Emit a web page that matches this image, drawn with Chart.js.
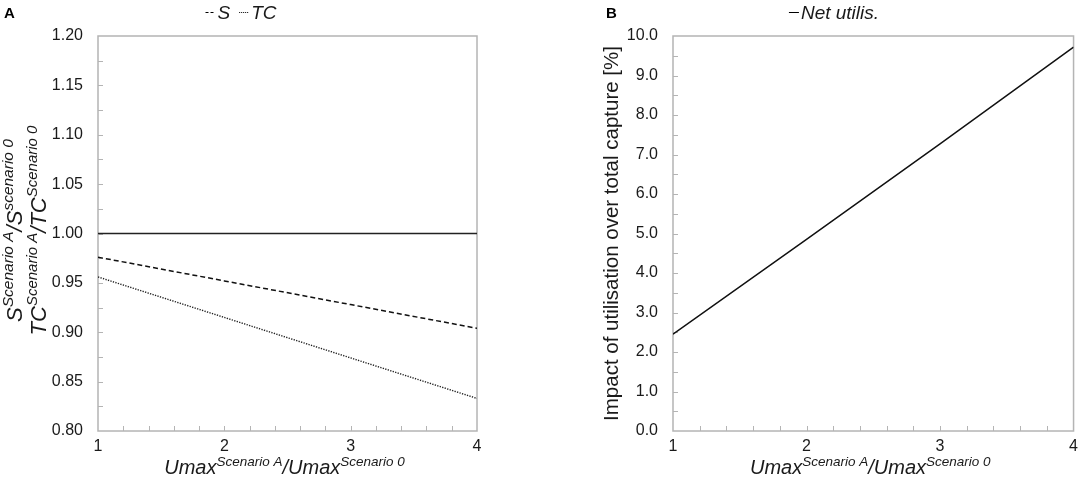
<!DOCTYPE html>
<html>
<head>
<meta charset="utf-8">
<script src="https://cdn.jsdelivr.net/npm/chart.js@4"></script>
<style>
  html, body { margin:0; padding:0; background:#fff; }
  #wrap { position:relative; width:1084px; height:485px; overflow:hidden; }
  canvas { position:absolute; top:0; }
</style>
</head>
<body>
<div id="wrap">
  <canvas id="cA" width="542" height="485" style="left:0;width:542px;height:485px"></canvas>
  <canvas id="cB" width="542" height="485" style="left:542px;width:542px;height:485px"></canvas>
</div>
<script>
// ---------------- DATA ----------------
const xValues      = [1, 2, 3, 4];
const sRatio       = [0.976, 0.952, 0.928, 0.904];   // S scenario A / S scenario 0
const tcRatio      = [0.956, 0.915, 0.874, 0.833];   // TC scenario A / TC scenario 0
const refLine      = [1.0, 1.0, 1.0, 1.0];           // reference ratio = 1
const netUtil      = [2.45, 4.85, 7.27, 9.72];       // Net utilisation impact [%]

const xTicks       = [1, 2, 3, 4];
const yTicksA      = [0.80, 0.85, 0.90, 0.95, 1.00, 1.05, 1.10, 1.15, 1.20];
const yTicksB      = [0.0, 1.0, 2.0, 3.0, 4.0, 5.0, 6.0, 7.0, 8.0, 9.0, 10.0];

const legendA      = ['S', 'TC'];
const legendB      = ['Net utilis.'];

// ---------------- HELPERS ----------------
const FONT = "'Liberation Sans', Arial, Helvetica, sans-serif";
const TXT = '#1a1a1a';
const FRAME = '#b4b4b4';

function pts(xs, ys) { return xs.map((x, i) => ({ x: x, y: ys[i] })); }

// rich text with superscripts; parts: [text, isSup]
function richWidth(ctx, parts, size, supSize) {
  let w = 0;
  for (const [t, sup] of parts) {
    ctx.font = 'italic ' + (sup ? supSize : size) + 'px ' + FONT;
    w += ctx.measureText(t).width;
  }
  return w;
}
function drawRich(ctx, parts, cx, baseY, size, supSize, supRise) {
  const w = richWidth(ctx, parts, size, supSize);
  let x = cx - w / 2;
  ctx.textBaseline = 'alphabetic';
  ctx.textAlign = 'left';
  ctx.fillStyle = TXT;
  for (const [t, sup] of parts) {
    ctx.font = 'italic ' + (sup ? supSize : size) + 'px ' + FONT;
    ctx.fillText(t, x, sup ? baseY - supRise : baseY);
    x += ctx.measureText(t).width;
  }
}

// frame + inward minor/major tick marks
function framePlugin(minorX, minorY) {
  return {
    id: 'frame',
    beforeDatasetsDraw(chart) {
      const { ctx, chartArea: a, scales } = chart;
      ctx.save();
      ctx.strokeStyle = FRAME;
      ctx.lineWidth = 1.5;
      ctx.strokeRect(a.left, a.top, a.right - a.left, a.bottom - a.top);
      ctx.lineWidth = 1;
      ctx.beginPath();
      const xs = scales.x, ys = scales.y;
      const nx = Math.round((xs.max - xs.min) / minorX);
      for (let i = 1; i < nx; i++) {
        const px = Math.round(xs.getPixelForValue(xs.min + i * minorX)) + 0.5;
        ctx.moveTo(px, a.bottom); ctx.lineTo(px, a.bottom - 5);
      }
      const ny = Math.round((ys.max - ys.min) / minorY);
      for (let i = 1; i < ny; i++) {
        const py = Math.round(ys.getPixelForValue(ys.min + i * minorY)) + 0.5;
        ctx.moveTo(a.left, py); ctx.lineTo(a.left + 5, py);
      }
      ctx.stroke();
      ctx.restore();
    }
  };
}

// legend drawn from dataset labels / dash styles
function legendPlugin(centerX, baseY, panelLetter, letterX) {
  return {
    id: 'customLegend',
    afterDraw(chart) {
      const ctx = chart.ctx;
      const items = chart.data.datasets.filter(d => d.label);
      ctx.save();
      ctx.font = 'bold 15px ' + FONT;
      ctx.fillStyle = '#000';
      ctx.textBaseline = 'alphabetic';
      ctx.textAlign = 'left';
      ctx.fillText(panelLetter, letterX, 18);
      ctx.font = 'italic 19px ' + FONT;
      const sw = 10, g1 = 2, g2 = 9;
      let total = 0;
      items.forEach((d, i) => {
        total += sw + g1 + ctx.measureText(d.label).width + (i < items.length - 1 ? g2 : 0);
      });
      let x = centerX - total / 2;
      items.forEach(d => {
        ctx.strokeStyle = '#000';
        ctx.lineWidth = 1;
        ctx.setLineDash(d.legendDash || []);
        ctx.beginPath();
        ctx.moveTo(x, baseY - 6.5); ctx.lineTo(x + sw, baseY - 6.5);
        ctx.stroke();
        ctx.setLineDash([]);
        x += sw + g1;
        ctx.fillStyle = TXT;
        ctx.fillText(d.label, x, baseY);
        x += ctx.measureText(d.label).width + g2;
      });
      ctx.restore();
    }
  };
}

function titlesPlugin(drawYTitle) {
  return {
    id: 'titles',
    afterDraw(chart) {
      const { ctx, chartArea: a } = chart;
      ctx.save();
      const xParts = [['Umax', false], ['Scenario A', true], ['/', false], ['Umax', false], ['Scenario 0', true]];
      drawRich(ctx, xParts, (a.left + a.right) / 2 - 3, 474, 20, 13.5, 8);
      drawYTitle(ctx, a);
      ctx.restore();
    }
  };
}

function commonScales(yMin, yMax, yTickVals, yFmt, yWidth) {
  return {
    x: {
      type: 'linear', min: 1, max: 4,
      afterBuildTicks: s => { s.ticks = xTicks.map(v => ({ value: v })); },
      afterFit: s => { s.height = 54; },
      ticks: { font: { family: FONT, size: 16 }, color: TXT, padding: 6, maxRotation: 0,
               callback: v => String(v) },
      grid: { display: false, drawTicks: false },
      border: { display: false }
    },
    y: {
      type: 'linear', min: yMin, max: yMax,
      afterBuildTicks: s => { s.ticks = yTickVals.map(v => ({ value: v })); },
      afterFit: s => { s.width = yWidth; },
      ticks: { font: { family: FONT, size: 16 }, color: TXT, padding: 15,
               callback: v => yFmt(v) },
      grid: { display: false, drawTicks: false },
      border: { display: false }
    }
  };
}

// ---------------- CHART A ----------------
new Chart(document.getElementById('cA'), {
  type: 'line',
  data: {
    datasets: [
      { data: pts(xValues, refLine), borderColor: '#222', borderWidth: 1.5, pointRadius: 0, fill: false },
      { label: legendA[0], data: pts(xValues, sRatio), borderColor: '#111', borderWidth: 1.5,
        borderDash: [5, 3], legendDash: [3, 2], pointRadius: 0, fill: false },
      { label: legendA[1], data: pts(xValues, tcRatio), borderColor: '#222', borderWidth: 1.4,
        borderDash: [1.3, 1.3], legendDash: [1, 1], pointRadius: 0, fill: false }
    ]
  },
  options: {
    responsive: false, animation: false,
    layout: { padding: { left: 0, top: 36, right: 65, bottom: 0 } },
    plugins: { legend: { display: false }, tooltip: { enabled: false } },
    scales: commonScales(0.8, 1.2, yTicksA, v => v.toFixed(2), 98),
    elements: { line: { tension: 0 } }
  },
  plugins: [
    framePlugin(0.2, 0.025),
    legendPlugin(241, 19, 'A', 4),
    titlesPlugin((ctx, a) => {
      const cy = (a.top + a.bottom) / 2 - 3;
      ctx.save();
      ctx.translate(0, cy);
      ctx.rotate(-Math.PI / 2);
      drawRich(ctx, [['S', false], ['Scenario A', true], ['/', false], ['S', false], ['scenario 0', true]],
               0, 22, 22, 15.5, 9);
      drawRich(ctx, [['TC', false], ['Scenario A', true], ['/', false], ['TC', false], ['Scenario 0', true]],
               0, 46, 22, 15, 9);
      ctx.restore();
    })
  ]
});

// ---------------- CHART B ----------------
new Chart(document.getElementById('cB'), {
  type: 'line',
  data: {
    datasets: [
      { label: legendB[0], data: pts(xValues, netUtil), borderColor: '#111', borderWidth: 1.5,
        legendDash: [], pointRadius: 0, fill: false }
    ]
  },
  options: {
    responsive: false, animation: false,
    layout: { padding: { left: 0, top: 36, right: 7, bottom: 0 } },
    plugins: { legend: { display: false }, tooltip: { enabled: false } },
    scales: commonScales(0, 10, yTicksB, v => v.toFixed(1), 131),
    elements: { line: { tension: 0 } }
  },
  plugins: [
    framePlugin(0.2, 0.5),
    legendPlugin(292, 19, 'B', 64),
    titlesPlugin((ctx, a) => {
      ctx.save();
      ctx.translate(76, (a.top + a.bottom) / 2);
      ctx.rotate(-Math.PI / 2);
      ctx.font = '20.5px ' + FONT;
      ctx.fillStyle = TXT;
      ctx.textAlign = 'center';
      ctx.textBaseline = 'alphabetic';
      ctx.fillText('Impact of utilisation over total capture [%]', 0, 0);
      ctx.restore();
    })
  ]
});
</script>
</body>
</html>
